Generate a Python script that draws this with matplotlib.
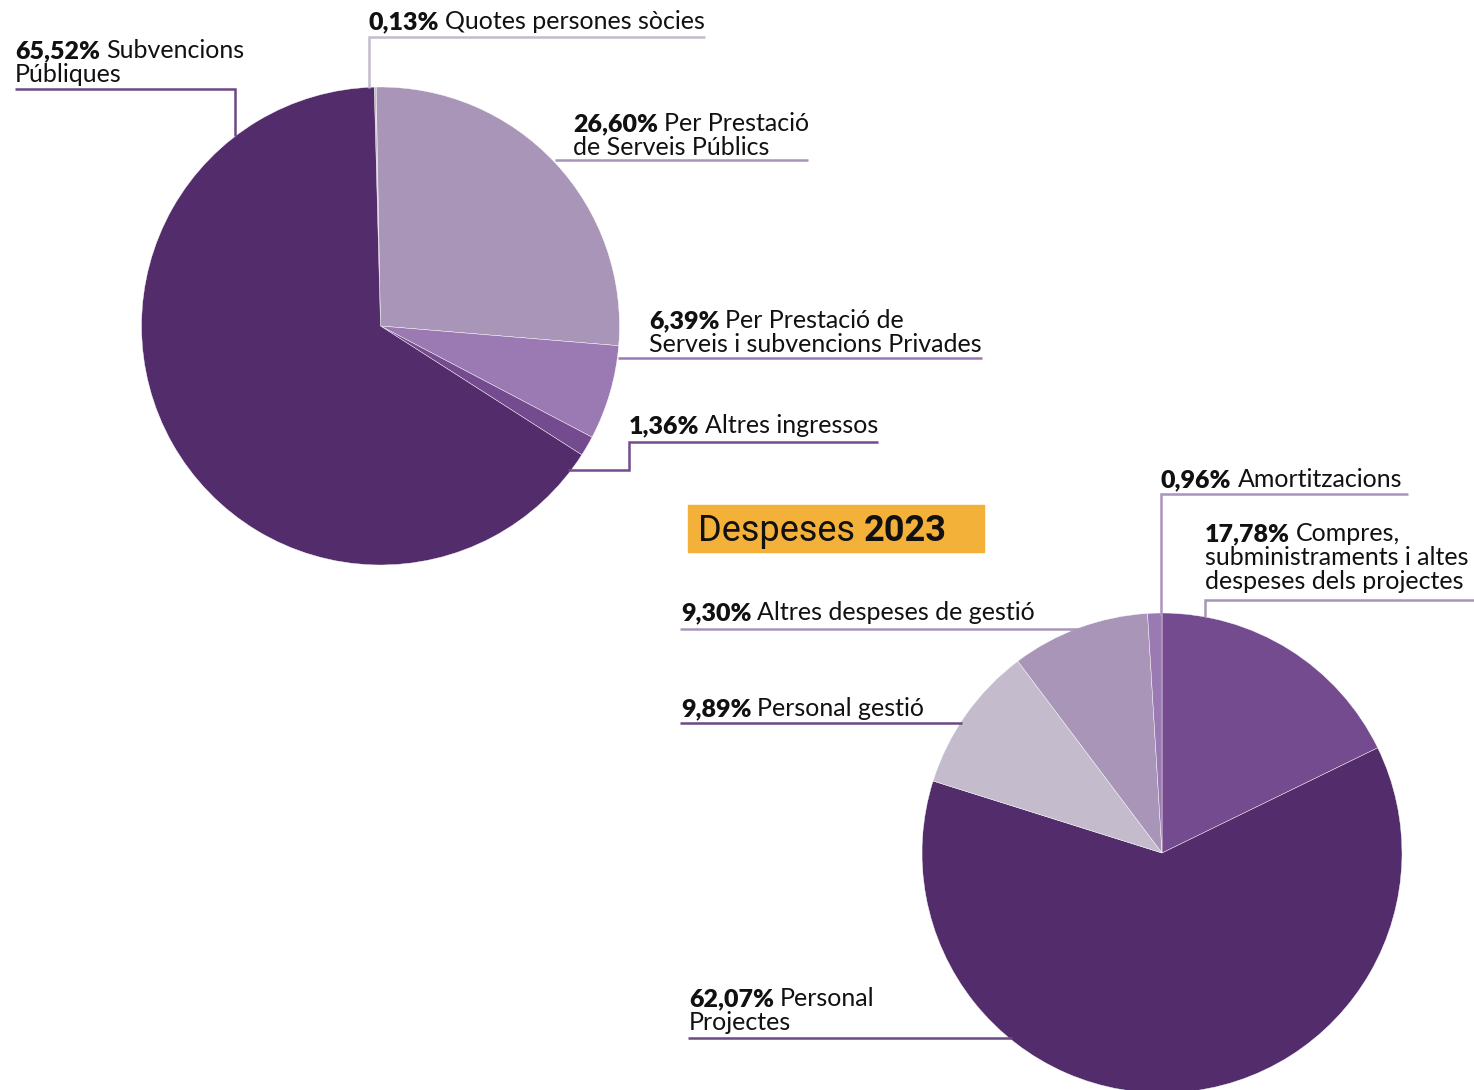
import matplotlib.pyplot as plt

W, H = 1474, 1090

# Ingressos (top pie)
ing_pct = [0.13, 26.60, 6.39, 1.36, 65.52]
ing_pct_txt = ["0,13%", "26,60%", "6,39%", "1,36%", "65,52%"]
ing_labels = [
    ["Quotes persones sòcies"],
    ["Per Prestació", "de Serveis Públics"],
    ["Per Prestació de", "Serveis i subvencions Privades"],
    ["Altres ingressos"],
    ["Subvencions", "Públiques"],
]
ing_colors = ["#c4bccc", "#a895b7", "#9b79b3", "#734b8e", "#532c6b"]

# Despeses (bottom pie)
desp_pct = [17.78, 62.07, 9.89, 9.30, 0.96]
desp_pct_txt = ["17,78%", "62,07%", "9,89%", "9,30%", "0,96%"]
desp_labels = [
    ["Compres,", "subministraments i altes", "despeses dels projectes"],
    ["Personal", "Projectes"],
    ["Personal gestió"],
    ["Altres despeses de gestió"],
    ["Amortitzacions"],
]
desp_colors = ["#734b8e", "#532c6b", "#c4bccc", "#a895b7", "#9b79b3"]

title_reg = "Despeses "
title_bold = "2023"

FONT = ["Lato", "DejaVu Sans"]
FS = 18
LH = 24

fig = plt.figure(figsize=(W / 100, H / 100), dpi=100)
ax = fig.add_axes([0, 0, 1, 1])


def yy(v):
    return H - v


ax.pie(ing_pct, colors=ing_colors, startangle=91.5, counterclock=False,
       center=(380.5, yy(326)), radius=239,
       wedgeprops=dict(linewidth=0.3, edgecolor="white"))
ax.pie(desp_pct, colors=desp_colors, startangle=90, counterclock=False,
       center=(1162, yy(853)), radius=240,
       wedgeprops=dict(linewidth=0.3, edgecolor="white"))

ax.set_xlim(0, W)
ax.set_ylim(0, H)
ax.set_aspect("equal")
ax.axis("off")

renderer = fig.canvas.get_renderer()


def label(x, y0, pct, lines):
    t = ax.text(x, yy(y0), pct, fontsize=FS, fontweight="heavy", family=FONT,
                color="#111111", va="baseline", ha="left")
    w = t.get_window_extent(renderer).width
    ax.text(x + w + 6, yy(y0), lines[0], fontsize=FS, family=FONT,
            color="#111111", va="baseline", ha="left")
    for i, ln in enumerate(lines[1:]):
        ax.text(x, yy(y0 + LH * (i + 1)), ln, fontsize=FS, family=FONT,
                color="#111111", va="baseline", ha="left")


def leader(pts, color):
    ax.plot([p[0] for p in pts], [yy(p[1]) for p in pts], color=color,
            lw=1.8, solid_capstyle="butt", solid_joinstyle="miter")


# top pie labels
label(369, 29, ing_pct_txt[0], ing_labels[0])
leader([(705, 37), (369, 37), (369, 88)], ing_colors[0])
label(573, 131, ing_pct_txt[1], ing_labels[1])
leader([(808, 160), (555, 160)], ing_colors[1])
label(649, 328, ing_pct_txt[2], ing_labels[2])
leader([(982, 358), (618, 358)], ing_colors[2])
label(629, 433, ing_pct_txt[3], ing_labels[3])
leader([(878, 442), (629, 442), (629, 470), (568, 470)], ing_colors[3])
label(15, 58, ing_pct_txt[4], ing_labels[4])
leader([(15, 89), (235, 89), (235, 136)], "#6a4a82")

# bottom pie labels
label(1161, 487, desp_pct_txt[4], desp_labels[4])
leader([(1408, 494), (1161, 494), (1161, 616)], "#a993c0")
label(1205, 541, desp_pct_txt[0], desp_labels[0])
leader([(1474, 600), (1205, 600), (1205, 617)], desp_colors[3])
label(681, 620, desp_pct_txt[3], desp_labels[3])
leader([(680, 629), (1082, 629)], desp_colors[3])
label(681, 716, desp_pct_txt[2], desp_labels[2])
leader([(680, 723), (962, 723)], "#6a4a82")
label(689, 1006, desp_pct_txt[1], desp_labels[1])
leader([(688, 1038), (1012, 1038)], "#6a4a82")

# title box
ax.add_patch(plt.Rectangle((688, yy(552)), 296, 47, color="#f4b13a", zorder=3))
TF = ["Liberation Sans Narrow", "Roboto", "DejaVu Sans"]
t1 = ax.text(698, yy(541), title_reg, fontsize=26, family=TF, color="#111111",
             va="baseline", ha="left", zorder=4)
w1 = t1.get_window_extent(renderer).width
ax.text(698 + w1, yy(541), title_bold, fontsize=26, family=TF,
        fontweight="bold", color="#111111", va="baseline", ha="left", zorder=4)

fig.savefig("out.png", dpi=100, facecolor="white")
